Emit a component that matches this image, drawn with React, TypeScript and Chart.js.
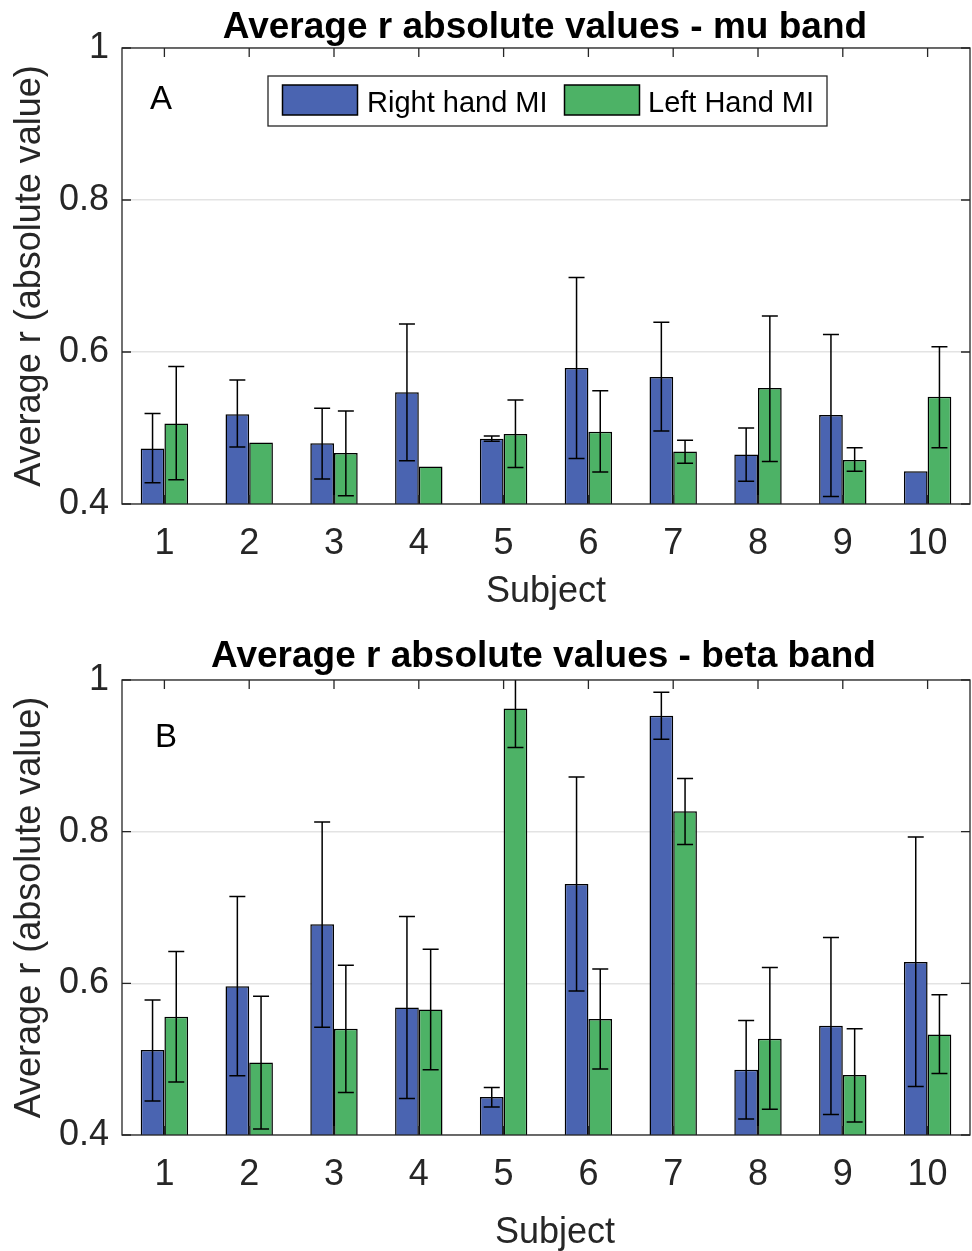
import { useEffect, useRef } from "react";
import { Chart, registerables } from "chart.js";

Chart.register(...registerables);

// ---------- data ----------
const subjects = ["1", "2", "3", "4", "5", "6", "7", "8", "9", "10"];
const seriesNames = ["Right hand MI", "Left Hand MI"];
const yTickValues = [0.4, 0.6, 0.8, 1];
const xAxisTitle = "Subject";
const yAxisTitle = "Average r (absolute value)";

// mu band
const muRight = [0.473, 0.518, 0.48, 0.547, 0.486, 0.579, 0.567, 0.465, 0.517, 0.443];
const muRightLow = [0.428, 0.475, 0.433, 0.457, 0.4825, 0.46, 0.496, 0.43, 0.41, null];
const muRightHigh = [0.519, 0.563, 0.526, 0.637, 0.4895, 0.698, 0.639, 0.5, 0.623, null];
const muLeft = [0.506, 0.481, 0.467, 0.4495, 0.492, 0.495, 0.469, 0.5525, 0.458, 0.541];
const muLeftLow = [0.432, null, 0.411, null, 0.448, 0.442, 0.4535, 0.456, 0.443, 0.474];
const muLeftHigh = [0.581, null, 0.5225, null, 0.537, 0.549, 0.484, 0.6475, 0.474, 0.607];

// beta band
const betaRight = [0.512, 0.596, 0.678, 0.568, 0.45, 0.731, 0.953, 0.486, 0.544, 0.628];
const betaRightLow = [0.445, 0.478, 0.542, 0.448, 0.437, 0.59, 0.922, 0.421, 0.427, 0.464];
const betaRightHigh = [0.578, 0.7145, 0.8126, 0.688, 0.4626, 0.872, 0.984, 0.551, 0.6605, 0.793];
const betaLeft = [0.556, 0.4956, 0.54, 0.5655, 0.9625, 0.553, 0.827, 0.527, 0.479, 0.5325];
const betaLeftLow = [0.47, 0.408, 0.456, 0.486, 0.911, 0.487, 0.783, 0.434, 0.417, 0.481];
const betaLeftHigh = [0.642, 0.583, 0.624, 0.645, 1.014, 0.619, 0.87, 0.621, 0.54, 0.585];

// ---------- styles ----------
const FONT = "'Liberation Sans', Arial, Helvetica, sans-serif";
const BLUE = "rgb(74,100,177)";
const GREEN = "rgb(77,178,102)";
const AXIS = "#262626";

type PanelCfg = {
  title: string;
  letter: string;
  right: number[];
  rightLow: (number | null)[];
  rightHigh: (number | null)[];
  left: number[];
  leftLow: (number | null)[];
  leftHigh: (number | null)[];
  height: number;
  padTop: number;
  titleX: number;
  titleY: number;
  letterX: number;
  letterY: number;
  xTitleX: number;
  xTitleY: number;
  legend: boolean;
};

const panels: PanelCfg[] = [
  {
    title: "Average r absolute values - mu band",
    letter: "A",
    right: muRight,
    rightLow: muRightLow,
    rightHigh: muRightHigh,
    left: muLeft,
    leftLow: muLeftLow,
    leftHigh: muLeftHigh,
    height: 620,
    padTop: 48,
    titleX: 545,
    titleY: 37.5,
    letterX: 150,
    letterY: 109,
    xTitleX: 546,
    xTitleY: 601.5,
    legend: true,
  },
  {
    title: "Average r absolute values - beta band",
    letter: "B",
    right: betaRight,
    rightLow: betaRightLow,
    rightHigh: betaRightHigh,
    left: betaLeft,
    leftLow: betaLeftLow,
    leftHigh: betaLeftHigh,
    height: 631,
    padTop: 60,
    titleX: 543.5,
    titleY: 47,
    letterX: 155,
    letterY: 127,
    xTitleX: 555,
    xTitleY: 623,
    legend: false,
  },
];

function PanelChart({ cfg }: { cfg: PanelCfg }) {
  const ref = useRef<HTMLCanvasElement>(null);

  useEffect(() => {
    const errors: [(number | null)[], (number | null)[]][] = [
      [cfg.rightLow, cfg.rightHigh],
      [cfg.leftLow, cfg.leftHigh],
    ];
    const colors = [BLUE, GREEN];

    const decor = {
      id: "decor",
      afterDatasetsDraw(chart: any) {
        const { ctx, chartArea: a, scales } = chart;
        const xs = scales.x;
        const ys = scales.y;

        // error bars
        ctx.save();
        ctx.beginPath();
        ctx.rect(a.left, a.top, a.right - a.left, a.bottom - a.top);
        ctx.clip();
        ctx.strokeStyle = "#000";
        ctx.lineWidth = 1.5;
        errors.forEach(([lo, hi], di) => {
          const meta = chart.getDatasetMeta(di);
          meta.data.forEach((bar: any, j: number) => {
            const l = lo[j];
            const h = hi[j];
            if (l == null || h == null) return;
            const px = bar.x;
            const y1 = ys.getPixelForValue(l);
            const y2 = ys.getPixelForValue(h);
            ctx.beginPath();
            ctx.moveTo(px, y1);
            ctx.lineTo(px, y2);
            ctx.moveTo(px - 8, y1);
            ctx.lineTo(px + 8, y1);
            ctx.moveTo(px - 8, y2);
            ctx.lineTo(px + 8, y2);
            ctx.stroke();
          });
        });
        ctx.restore();

        // axes box + inward ticks
        ctx.save();
        ctx.strokeStyle = AXIS;
        ctx.lineWidth = 1.3;
        ctx.strokeRect(a.left, a.top, a.right - a.left, a.bottom - a.top);
        ctx.beginPath();
        xs.ticks.forEach((_t: any, i: number) => {
          const px = xs.getPixelForTick(i);
          ctx.moveTo(px, a.bottom);
          ctx.lineTo(px, a.bottom - 9);
          ctx.moveTo(px, a.top);
          ctx.lineTo(px, a.top + 9);
        });
        ys.ticks.forEach((_t: any, i: number) => {
          const py = ys.getPixelForTick(i);
          ctx.moveTo(a.left, py);
          ctx.lineTo(a.left + 9, py);
          ctx.moveTo(a.right, py);
          ctx.lineTo(a.right - 9, py);
        });
        ctx.stroke();
        ctx.restore();

        ctx.save();
        ctx.textBaseline = "alphabetic";

        // x axis title
        ctx.fillStyle = AXIS;
        ctx.textAlign = "center";
        ctx.font = `36px ${FONT}`;
        ctx.fillText(xAxisTitle, cfg.xTitleX, cfg.xTitleY);

        // title
        ctx.fillStyle = "#000";
        ctx.font = `bold 37px ${FONT}`;
        ctx.fillText(cfg.title, cfg.titleX, cfg.titleY);

        // panel letter
        ctx.textAlign = "left";
        ctx.font = `33px ${FONT}`;
        ctx.fillText(cfg.letter, cfg.letterX, cfg.letterY);

        // legend
        if (cfg.legend) {
          const bx = 268, by = 76, bw = 559, bh = 50;
          ctx.fillStyle = "#fff";
          ctx.fillRect(bx, by, bw, bh);
          ctx.strokeStyle = AXIS;
          ctx.lineWidth = 1.3;
          ctx.strokeRect(bx, by, bw, bh);
          const items = [
            { sx: 282.5, tx: 367 },
            { sx: 564.5, tx: 648 },
          ];
          ctx.font = `29px ${FONT}`;
          items.forEach((it, i) => {
            ctx.fillStyle = colors[i];
            ctx.fillRect(it.sx, 85, 75, 30);
            ctx.strokeStyle = "#000";
            ctx.lineWidth = 1.5;
            ctx.strokeRect(it.sx, 85, 75, 30);
            ctx.fillStyle = "#000";
            ctx.fillText(chart.data.datasets[i].label, it.tx, 111.5);
          });
        }
        ctx.restore();
      },
    };

    const chart = new Chart(ref.current as HTMLCanvasElement, {
      type: "bar",
      data: {
        labels: subjects,
        datasets: [
          {
            label: seriesNames[0],
            data: cfg.right,
            backgroundColor: BLUE,
            borderColor: "#000",
            borderWidth: 1.5,
            borderSkipped: false,
            barPercentage: 1,
            categoryPercentage: 0.559,
          },
          {
            label: seriesNames[1],
            data: cfg.left,
            backgroundColor: GREEN,
            borderColor: "#000",
            borderWidth: 1.5,
            borderSkipped: false,
            barPercentage: 1,
            categoryPercentage: 0.559,
          },
        ],
      },
      options: {
        responsive: false,
        animation: false,
        devicePixelRatio: 1,
        layout: { padding: { top: cfg.padTop, right: 2, left: 0, bottom: 0 } },
        plugins: {
          legend: { display: false },
          tooltip: { enabled: false },
          title: { display: false },
        },
        scales: {
          x: {
            grid: { display: false },
            border: { display: false },
            ticks: {
              color: AXIS,
              padding: 10,
              font: { family: FONT, size: 36 },
              maxRotation: 0,
              autoSkip: false,
            },
            title: { display: false },
            afterFit: (s: any) => {
              s.height = 116;
            },
          },
          y: {
            min: 0.4,
            max: 1,
            grid: { color: "#e3e3e3", lineWidth: 1.5, drawTicks: false },
            border: { display: false },
            afterBuildTicks: (s: any) => {
              s.ticks = yTickValues.map((v) => ({ value: v }));
            },
            ticks: {
              color: AXIS,
              padding: 13,
              font: { family: FONT, size: 36 },
              callback: (v: any) => String(Number(Number(v).toFixed(1))),
            },
            title: {
              display: true,
              text: yAxisTitle,
              color: AXIS,
              font: { family: FONT, size: 36 },
              padding: { top: 8, bottom: 0 },
            },
            afterFit: (s: any) => {
              s.width = 122;
            },
          },
        },
      },
      plugins: [decor],
    });
    return () => chart.destroy();
  }, [cfg]);

  return (
    <canvas
      ref={ref}
      width={972}
      height={cfg.height}
      style={{ display: "block", width: 972, height: cfg.height }}
    />
  );
}

export default function App() {
  return (
    <div
      style={{
        position: "absolute",
        left: 0,
        top: 0,
        width: 972,
        height: 1251,
        background: "#fff",
        overflow: "hidden",
      }}
    >
      {panels.map((p, i) => (
        <PanelChart key={i} cfg={p} />
      ))}
    </div>
  );
}
